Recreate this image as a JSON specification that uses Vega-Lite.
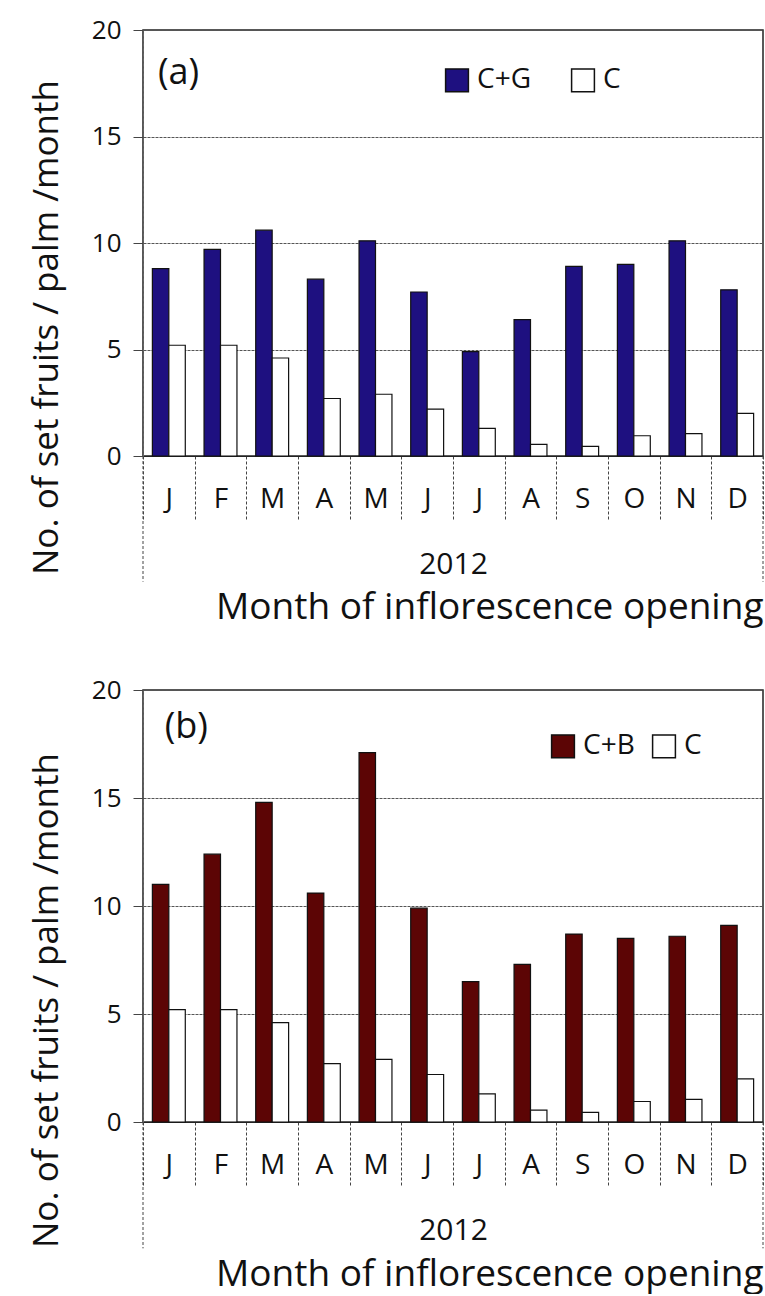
{
  "$schema": "https://vega.github.io/schema/vega-lite/v6.json",
  "background": "white",
  "padding": {"left": 28, "top": 16, "right": 0, "bottom": 0},
  "spacing": 49,
  "resolve": {"scale": {"x": "independent", "y": "independent", "fill": "independent", "xOffset": "independent"}, "legend": {"fill": "independent"}},
  "config": {
    "view": {"stroke": "#222", "strokeWidth": 1.5},
    "font": "Open Sans",
    "axis": {"labelFont": "Open Sans", "titleFont": "Open Sans", "labelColor": "#111", "titleColor": "#111"}
  },
  "datasets": {
    "a": [
      {"month": "Jan", "series": "C+G", "value": 8.8},
      {"month": "Feb", "series": "C+G", "value": 9.7},
      {"month": "Mar", "series": "C+G", "value": 10.6},
      {"month": "Apr", "series": "C+G", "value": 8.3},
      {"month": "May", "series": "C+G", "value": 10.1},
      {"month": "Jun", "series": "C+G", "value": 7.7},
      {"month": "Jul", "series": "C+G", "value": 4.9},
      {"month": "Aug", "series": "C+G", "value": 6.4},
      {"month": "Sep", "series": "C+G", "value": 8.9},
      {"month": "Oct", "series": "C+G", "value": 9.0},
      {"month": "Nov", "series": "C+G", "value": 10.1},
      {"month": "Dec", "series": "C+G", "value": 7.8},
      {"month": "Jan", "series": "C", "value": 5.2},
      {"month": "Feb", "series": "C", "value": 5.2},
      {"month": "Mar", "series": "C", "value": 4.6},
      {"month": "Apr", "series": "C", "value": 2.7},
      {"month": "May", "series": "C", "value": 2.9},
      {"month": "Jun", "series": "C", "value": 2.2},
      {"month": "Jul", "series": "C", "value": 1.3},
      {"month": "Aug", "series": "C", "value": 0.55},
      {"month": "Sep", "series": "C", "value": 0.45},
      {"month": "Oct", "series": "C", "value": 0.95},
      {"month": "Nov", "series": "C", "value": 1.05},
      {"month": "Dec", "series": "C", "value": 2.0}
    ],
    "b": [
      {"month": "Jan", "series": "C+B", "value": 11.0},
      {"month": "Feb", "series": "C+B", "value": 12.4},
      {"month": "Mar", "series": "C+B", "value": 14.8},
      {"month": "Apr", "series": "C+B", "value": 10.6},
      {"month": "May", "series": "C+B", "value": 17.1},
      {"month": "Jun", "series": "C+B", "value": 9.9},
      {"month": "Jul", "series": "C+B", "value": 6.5},
      {"month": "Aug", "series": "C+B", "value": 7.3},
      {"month": "Sep", "series": "C+B", "value": 8.7},
      {"month": "Oct", "series": "C+B", "value": 8.5},
      {"month": "Nov", "series": "C+B", "value": 8.6},
      {"month": "Dec", "series": "C+B", "value": 9.1},
      {"month": "Jan", "series": "C", "value": 5.2},
      {"month": "Feb", "series": "C", "value": 5.2},
      {"month": "Mar", "series": "C", "value": 4.6},
      {"month": "Apr", "series": "C", "value": 2.7},
      {"month": "May", "series": "C", "value": 2.9},
      {"month": "Jun", "series": "C", "value": 2.2},
      {"month": "Jul", "series": "C", "value": 1.3},
      {"month": "Aug", "series": "C", "value": 0.55},
      {"month": "Sep", "series": "C", "value": 0.45},
      {"month": "Oct", "series": "C", "value": 0.95},
      {"month": "Nov", "series": "C", "value": 1.05},
      {"month": "Dec", "series": "C", "value": 2.0}
    ],
    "edges": [{"edge": 0}, {"edge": 1}],
    "labA": [{"label": "(a)"}],
    "labB": [{"label": "(b)"}]
  },
  "vconcat": [
    {
      "width": 620,
      "height": 426,
      "title": {"text": "Month of inflorescence opening", "orient": "bottom", "anchor": "end", "fontSize": 37, "fontWeight": "normal", "font": "Open Sans", "color": "#111", "offset": 8},
      "resolve": {"scale": {"x": "independent"}},
      "layer": [
        {
          "data": {"name": "a"},
          "mark": {"type": "bar", "stroke": "#111", "strokeWidth": 1.2},
          "encoding": {
            "x": {
              "field": "month", "type": "nominal",
              "sort": ["Jan","Feb","Mar","Apr","May","Jun","Jul","Aug","Sep","Oct","Nov","Dec"],
              "scale": {"paddingInner": 0, "paddingOuter": 0},
              "axis": {
                "title": "2012", "titleFontSize": 30, "titleFontWeight": "normal", "titleY": 108, "titleBaseline": "middle",
                "labelExpr": "datum.value ? substring(datum.value, 0, 1) : ''", "labelAngle": 0, "labelFontSize": 28, "labelPadding": -34, "labelBaseline": "top",
                "tickBand": "extent", "tickColor": "#444", "tickDash": [3, 2], "tickWidth": 1, "tickSize": 63,
                "domainColor": "#222", "domainWidth": 1.2
              }
            },
            "xOffset": {"field": "series", "type": "nominal", "sort": ["C+G", "C"], "scale": {"paddingInner": 0, "paddingOuter": 0.57}},
            "y": {
              "field": "value", "type": "quantitative",
              "scale": {"domain": [0, 20]},
              "axis": {
                "title": "No. of set fruits / palm /month", "titleFontSize": 35, "titleFontWeight": "normal",
                "titleY": 297, "titleAlign": "center", "titlePadding": 27,
                "values": [0, 5, 10, 15, 20], "labelFontSize": 26, "tickSize": 10, "labelPadding": 12,
                "tickColor": "#444", "grid": true, "gridColor": "#555", "gridDash": [3, 1], "gridWidth": 1,
                "domainColor": "#666", "domainDash": [3, 2]
              }
            },
            "fill": {
              "field": "series", "type": "nominal",
              "scale": {"domain": ["C+G", "C"], "range": ["#1e1080", "#ffffff"]},
              "legend": {
                "orient": "none", "legendX": 300, "legendY": 36, "direction": "horizontal", "title": null,
                "symbolType": "square", "symbolSize": 520, "symbolStrokeColor": "#111", "symbolStrokeWidth": 1.5,
                "labelFontSize": 28, "labelFont": "Open Sans", "labelColor": "#111", "columnPadding": 36, "labelOffset": 6
              }
            }
          }
        },
        {
          "data": {"name": "edges"},
          "mark": {"type": "rule", "strokeDash": [3, 2], "color": "#444", "strokeWidth": 1, "clip": false},
          "encoding": {
            "x": {"field": "edge", "type": "quantitative", "scale": {"domain": [0, 1], "nice": false, "zero": false}, "axis": null},
            "y": {"datum": 0, "type": "quantitative"},
            "y2": {"datum": -5.9}
          }
        },
        {
          "data": {"name": "labA"},
          "mark": {"type": "text", "align": "left", "baseline": "middle", "fontSize": 36, "color": "#111", "font": "Open Sans"},
          "encoding": {
            "x": {"datum": 0.024, "type": "quantitative", "scale": {"domain": [0, 1], "nice": false, "zero": false}, "axis": null},
            "y": {"datum": 18.0, "type": "quantitative"},
            "text": {"field": "label"}
          }
        }
      ]
    },
    {
      "width": 620,
      "height": 432,
      "title": {"text": "Month of inflorescence opening", "orient": "bottom", "anchor": "end", "fontSize": 37, "fontWeight": "normal", "font": "Open Sans", "color": "#111", "offset": 8},
      "resolve": {"scale": {"x": "independent"}},
      "layer": [
        {
          "data": {"name": "b"},
          "mark": {"type": "bar", "stroke": "#111", "strokeWidth": 1.2},
          "encoding": {
            "x": {
              "field": "month", "type": "nominal",
              "sort": ["Jan","Feb","Mar","Apr","May","Jun","Jul","Aug","Sep","Oct","Nov","Dec"],
              "scale": {"paddingInner": 0, "paddingOuter": 0},
              "axis": {
                "title": "2012", "titleFontSize": 30, "titleFontWeight": "normal", "titleY": 108, "titleBaseline": "middle",
                "labelExpr": "datum.value ? substring(datum.value, 0, 1) : ''", "labelAngle": 0, "labelFontSize": 28, "labelPadding": -34, "labelBaseline": "top",
                "tickBand": "extent", "tickColor": "#444", "tickDash": [3, 2], "tickWidth": 1, "tickSize": 63,
                "domainColor": "#222", "domainWidth": 1.2
              }
            },
            "xOffset": {"field": "series", "type": "nominal", "sort": ["C+B", "C"], "scale": {"paddingInner": 0, "paddingOuter": 0.57}},
            "y": {
              "field": "value", "type": "quantitative",
              "scale": {"domain": [0, 20]},
              "axis": {
                "title": "No. of set fruits / palm /month", "titleFontSize": 35, "titleFontWeight": "normal",
                "titleY": 310, "titleAlign": "center", "titlePadding": 27,
                "values": [0, 5, 10, 15, 20], "labelFontSize": 26, "tickSize": 10, "labelPadding": 12,
                "tickColor": "#444", "grid": true, "gridColor": "#555", "gridDash": [3, 1], "gridWidth": 1,
                "domainColor": "#666", "domainDash": [3, 2]
              }
            },
            "fill": {
              "field": "series", "type": "nominal",
              "scale": {"domain": ["C+B", "C"], "range": ["#5c0505", "#ffffff"]},
              "legend": {
                "orient": "none", "legendX": 406, "legendY": 42, "direction": "horizontal", "title": null,
                "symbolType": "square", "symbolSize": 520, "symbolStrokeColor": "#111", "symbolStrokeWidth": 1.5,
                "labelFontSize": 28, "labelFont": "Open Sans", "labelColor": "#111", "columnPadding": 14, "labelOffset": 6
              }
            }
          }
        },
        {
          "data": {"name": "edges"},
          "mark": {"type": "rule", "strokeDash": [3, 2], "color": "#444", "strokeWidth": 1, "clip": false},
          "encoding": {
            "x": {"field": "edge", "type": "quantitative", "scale": {"domain": [0, 1], "nice": false, "zero": false}, "axis": null},
            "y": {"datum": 0, "type": "quantitative"},
            "y2": {"datum": -5.85}
          }
        },
        {
          "data": {"name": "labB"},
          "mark": {"type": "text", "align": "left", "baseline": "middle", "fontSize": 36, "color": "#111", "font": "Open Sans"},
          "encoding": {
            "x": {"datum": 0.035, "type": "quantitative", "scale": {"domain": [0, 1], "nice": false, "zero": false}, "axis": null},
            "y": {"datum": 18.3, "type": "quantitative"},
            "text": {"field": "label"}
          }
        }
      ]
    }
  ]
}
